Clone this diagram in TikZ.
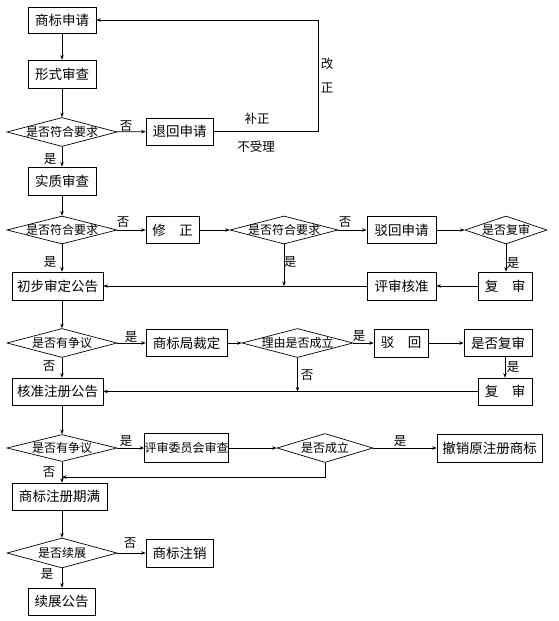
\documentclass[tikz,border=0pt]{standalone}
\usepackage{fontspec}
\setmainfont{Noto Sans CJK SC}
\usetikzlibrary{shapes.geometric,arrows.meta,calc}
\tikzset{
  box/.style={draw, inner sep=0pt, minimum height=27pt, font=\fontsize{13.5}{14}\selectfont},
  dia/.style={draw, diamond, inner sep=0pt, minimum height=29pt, font=\fontsize{12}{13}\selectfont},
  lab/.style={inner sep=0pt, font=\fontsize{12.5}{13}\selectfont},
  flow/.style={-{Stealth[length=4.5pt,width=3.5pt]}},
}
\newcommand{\dtext}[1]{\makebox[0pt]{#1}}

\begin{document}
\begin{tikzpicture}[x=1pt,y=-1pt,line width=0.7pt]
  \useasboundingbox (0,0) rectangle (558,621);
  % examination
  \node[box, minimum width=68pt, minimum height=26pt] (apply) at (62,20) {商标申请};
  \node[box, minimum width=68pt, minimum height=28pt] (formal) at (62,74) {形式审查};
  \node[dia, minimum width=110pt] (chk1) at (62,132) {\dtext{是否符合要求}};
  \node[box, minimum width=67pt] (back) at (179.5,131.5) {退回申请};
  \node[box, minimum width=68pt, minimum height=28pt] (subst) at (62,181) {实质审查};
  \node[dia, minimum width=110pt, minimum height=28pt] (chk2) at (62,230) {\dtext{是否符合要求}};
  \node[box, minimum width=53pt] (amend) at (172.5,230) {修\hspace{1em}正};
  \node[dia, minimum width=108pt, minimum height=28pt] (chk3) at (284,230) {\dtext{是否符合要求}};
  \node[box, minimum width=69pt] (reject) at (401.5,230) {驳回申请};
  \node[dia, minimum width=82pt, minimum height=28pt] (ask1) at (506,230) {\dtext{是否复审}};
  \node[box, minimum width=91pt, minimum height=28pt] (prelim) at (57.5,286) {初步审定公告};
  \node[box, minimum width=69pt, minimum height=28pt] (approve) at (401.5,286) {评审核准};
  \node[box, minimum width=54pt, minimum height=28pt] (review1) at (505,286) {复\hspace{1em}审};
  % opposition
  \node[dia, minimum width=110pt] (chk5) at (62,343) {\dtext{是否有争议}};
  \node[box, minimum width=81pt] (ruling) at (186.5,343) {商标局裁定};
  \node[dia, minimum width=111pt] (chk6) at (297.5,343) {\dtext{理由是否成立}};
  \node[box, minimum width=54pt, minimum height=28pt] (reject2) at (401,343) {驳\hspace{1em}回};
  \node[box, minimum width=68pt] (askrev) at (498,343) {是否复审};
  \node[box, minimum width=91pt] (regist) at (57.5,391.5) {核准注册公告};
  \node[box, minimum width=54pt] (review2) at (505,391.5) {复\hspace{1em}审};
  % dispute and renewal
  \node[dia, minimum width=110pt, minimum height=27pt] (chk7) at (62,448) {\dtext{是否有争议}};
  \node[box, minimum width=81pt, minimum height=29pt, font=\fontsize{12}{13}\selectfont] (board) at (186.5,448) {评审委员会审查};
  \node[dia, minimum width=96pt] (chk8) at (325,448) {\dtext{是否成立}};
  \node[box, minimum width=105pt, minimum height=28pt] (revoke) at (489.5,448) {撤销原注册商标};
  \coordinate (merge) at (62,477);
  \node[box, minimum width=95pt] (expire) at (59.5,496.5) {商标注册期满};
  \node[dia, minimum width=110pt, minimum height=30pt] (chk9) at (62,553) {\dtext{是否续展}};
  \node[box, minimum width=67pt, minimum height=28pt] (cancel) at (179.5,553) {商标注销};
  \node[box, minimum width=67pt] (renew) at (61.5,601.5) {续展公告};
  \coordinate (fix) at (318,20);

  \draw[flow] (apply) -- (formal);
  \draw[flow] (formal) -- (chk1);
  \draw[flow] (chk1) -- (back);
  \draw[flow] (chk1) -- (subst);
  \draw[flow] (back.east) -| (fix) -- (apply.east);
  \draw[flow] (subst) -- (chk2);
  \draw[flow] (chk2) -- (amend);
  \draw[flow] (chk2) -- (chk2 |- prelim.north);
  \draw[flow] (amend) -- (chk3);
  \draw[flow] (chk3) -- (reject);
  \draw[flow] (reject) -- (ask1);
  \draw[flow] (ask1) -- (ask1 |- review1.north);
  \draw[flow] (review1) -- (approve);
  \draw[flow] (approve) -- (prelim);
  \draw[flow] (chk3) -- (chk3 |- prelim);
  \draw[flow] (prelim.south -| chk5) -- (chk5);
  \draw[flow] (chk5) -- (ruling);
  \draw[flow] (chk5) -- (chk5 |- regist.north);
  \draw[flow] (ruling) -- (chk6);
  \draw[flow] (chk6) -- (reject2);
  \draw[flow] (reject2) -- (askrev);
  \draw[flow] (askrev.south -| review2) -- (review2);
  \draw[flow] (review2) -- (regist);
  \draw[flow] (chk6) -- (chk6 |- regist);
  \draw[flow] (regist.south -| chk7) -- (chk7);
  \draw[flow] (chk7) -- (board);
  \draw[flow] (chk7) -- (chk7 |- expire.north);
  \draw[flow] (board) -- (chk8);
  \draw[flow] (chk8) -- (revoke);
  \draw[flow] (chk8.south) |- (merge);
  \draw[flow] (expire.south -| chk9) -- (chk9);
  \draw[flow] (chk9) -- (cancel);
  \draw[flow] (chk9) -- (chk9 |- renew.north);

  % labels
  \node[lab] (no1) at (126,126) {否};
  \node[lab] (yes1) at (50,159) {是};
  \node[lab] (fix1) at (327,64) {改};
  \node[lab] (fix2) at (327,88) {正};
  \node[lab] (supp) at (257,119) {补正};
  \node[lab] (refuse) at (256,147) {不受理};
  \node[lab] (no2) at (123,222) {否};
  \node[lab] (yes2) at (50,262) {是};
  \node[lab] (no3) at (345,222) {否};
  \node[lab] (yes3) at (290,262) {是};
  \node[lab] (yes4) at (513,263) {是};
  \node[lab] (yes5) at (131,337) {是};
  \node[lab] (no5) at (49,366) {否};
  \node[lab] (yes6) at (359,336) {是};
  \node[lab] (no6) at (307,375) {否};
  \node[lab] (yes7) at (513,367) {是};
  \node[lab] (yes8) at (126,441) {是};
  \node[lab] (no8) at (49,472) {否};
  \node[lab] (yes9) at (400,441) {是};
  \node[lab] (no9) at (130,543) {否};
  \node[lab] (yes10) at (47,574) {是};
\end{tikzpicture}
\end{document}
